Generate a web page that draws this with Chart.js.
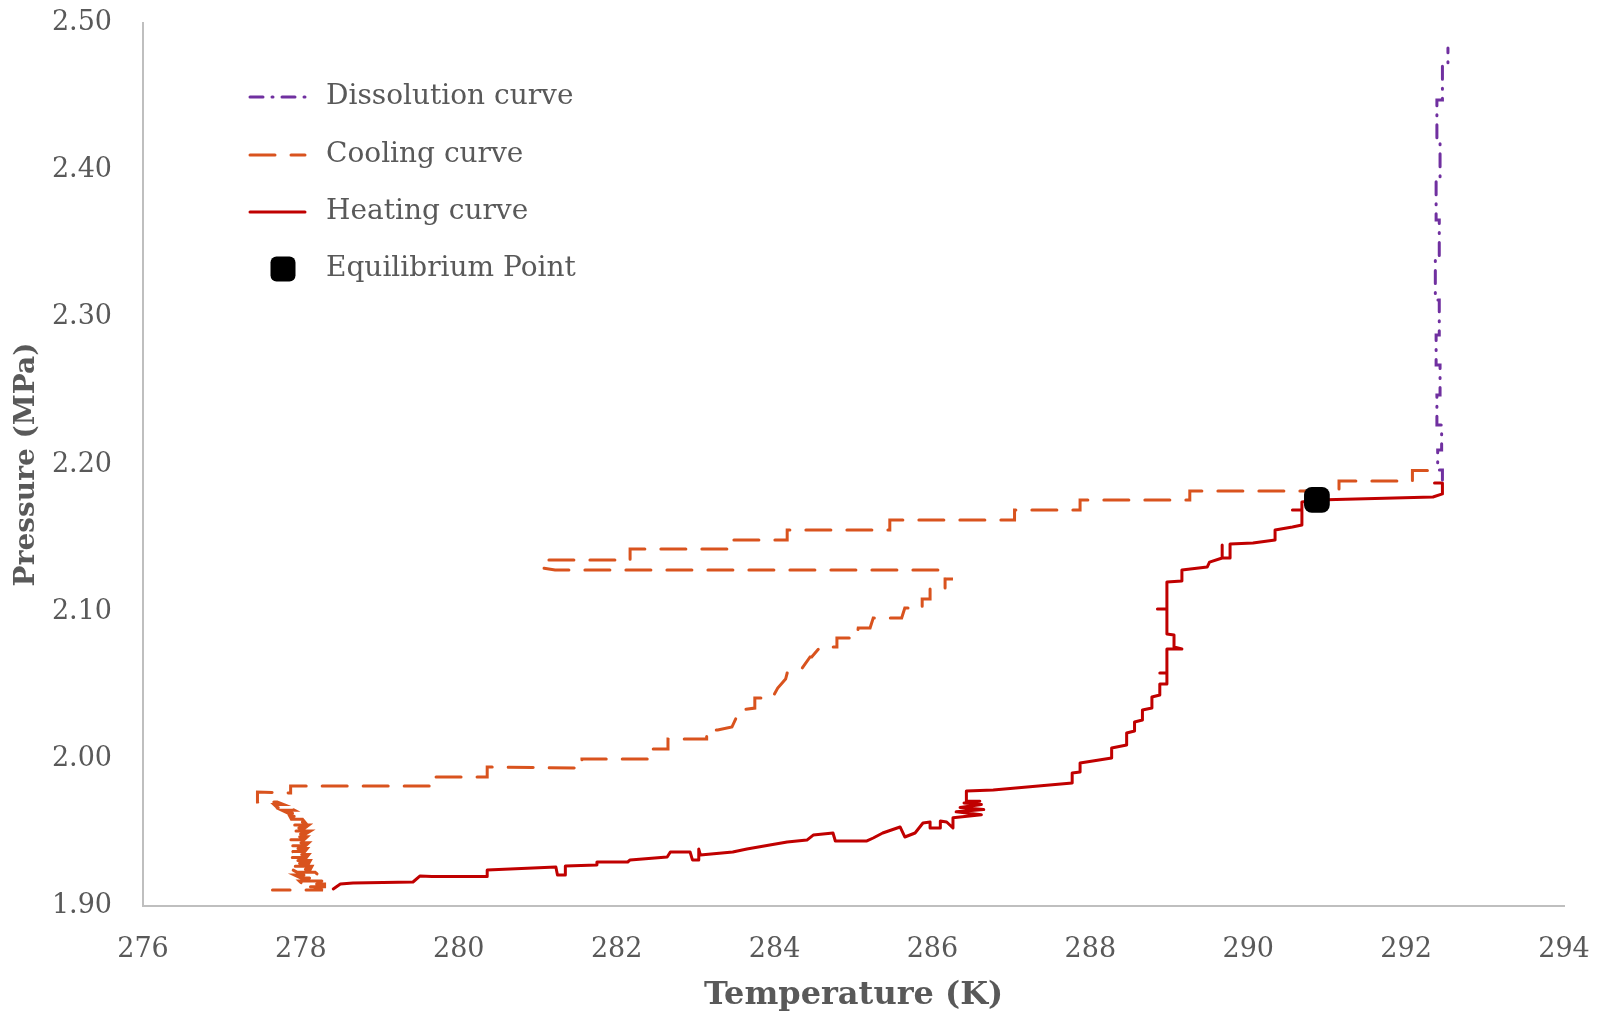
<!DOCTYPE html>
<html><head><meta charset="utf-8">
<script src="https://cdn.jsdelivr.net/npm/chart.js@4.4.1/dist/chart.umd.min.js"></script>
<style>html,body{margin:0;padding:0;background:#fff;overflow:hidden}#wrap{width:1598px;height:1017px;position:relative}</style>
</head><body><div id="wrap"><canvas id="c" width="1598" height="1017"></canvas></div>
<script>
// ---- data ----
const xAxisRange = [276, 294];
const xTickStep = 2;
const yAxisRange = [1.90, 2.50];
const yTickStep = 0.10;
const seriesNames = ["Dissolution curve", "Cooling curve", "Heating curve", "Equilibrium Point"];

const dissolutionT = [292.46,292.46,292.40,292.40,292.45,292.45,292.39,292.39,292.43,292.43,292.38,292.38,292.42,292.42,292.37,292.37,292.42,292.42,292.38,292.38,292.43,292.43,292.39,292.39,292.46,292.46,292.53,292.53];
const dissolutionP = [2.1895,2.1963,2.1963,2.2098,2.2098,2.2268,2.2268,2.2472,2.2472,2.2676,2.2676,2.2880,2.2880,2.3118,2.3118,2.3390,2.3390,2.3661,2.3661,2.3933,2.3933,2.4205,2.4205,2.4477,2.4477,2.4715,2.4715,2.4830];

const coolingT = [292.27,292.08,292.08,291.15,291.15,289.26,289.26,287.87,287.87,287.04,287.04,285.46,285.46,284.16,284.16,283.46,283.46,282.17,282.17,281.06,281.06,281.22,286.16,286.16,286.26,286.16,286.16,285.97,285.97,285.87,285.87,285.65,285.61,285.25,285.21,285.06,285.04,284.79,284.79,284.58,284.47,284.45,284.35,284.16,284.14,284.04,283.97,283.75,283.75,283.56,283.46,283.28,283.14,283.14,282.65,282.65,282.46,282.46,281.56,281.56,280.36,280.36,279.66,279.66,277.87,277.87,
  277.45,277.45, 277.59,277.70, 277.78,277.66, 277.70,277.85, 277.92,277.76, 277.84,277.95, 278.00,277.86, 277.88,278.02, 278.05,277.90, 277.88,278.10, 278.05,277.92, 277.86,278.12, 278.06,277.92, 277.90,278.08, 278.04,277.84, 277.92,278.10, 278.06,277.86, 277.84,278.08, 278.05,277.90, 277.86,278.10, 278.07,277.83, 277.90,278.12, 278.10,277.86, 277.92,278.14, 278.12,277.88, 277.95,278.18, 278.22,277.92, 278.00,278.25, 278.28,277.98, 278.02,278.30, 278.30,278.05, 278.28,277.64];
const coolingP = [2.1959,2.1959,2.1888,2.1888,2.1820,2.1820,2.1759,2.1759,2.1691,2.1691,2.1623,2.1623,2.1555,2.1555,2.1487,2.1487,2.1426,2.1426,2.1351,2.1351,2.1297,2.1283,2.1283,2.1222,2.1222,2.1222,2.1154,2.1154,2.1086,2.1086,2.1025,2.1025,2.0957,2.0957,2.0889,2.0889,2.0821,2.0821,2.0760,2.0760,2.0692,2.0692,2.0617,2.0583,2.0542,2.0481,2.0413,2.0413,2.0345,2.0332,2.0216,2.0196,2.0196,2.0135,2.0135,2.0067,2.0067,1.9999,1.9999,1.9938,1.9944,1.9877,1.9877,1.9815,1.9815,1.9768,
  1.9775,1.9707, 1.9707,1.9707, 1.9690,1.9690, 1.9670,1.9670, 1.9650,1.9650, 1.9630,1.9630, 1.9610,1.9610, 1.9590,1.9590, 1.9570,1.9570, 1.9550,1.9550, 1.9530,1.9530, 1.9510,1.9510, 1.9490,1.9490, 1.9470,1.9470, 1.9450,1.9450, 1.9430,1.9430, 1.9410,1.9410, 1.9390,1.9390, 1.9370,1.9370, 1.9350,1.9350, 1.9330,1.9330, 1.9310,1.9310, 1.9290,1.9290, 1.9270,1.9270, 1.9250,1.9250, 1.9230,1.9230, 1.9210,1.9210, 1.9190,1.9190, 1.9170,1.9170, 1.9150,1.9150, 1.9130,1.9130, 1.9109,1.9109];

const heatingT = [278.41,278.50,278.66,279.42,279.51,279.66,280.36,280.36,281.23,281.25,281.35,281.35,281.75,281.75,282.14,282.17,282.64,282.68,282.93,282.96,283.04,283.04,283.06,283.47,283.65,283.94,284.16,284.41,284.49,284.74,284.77,285.17,285.25,285.37,285.59,285.65,285.78,285.88,285.97,285.97,286.10,286.10,286.18,286.26,
  286.26,286.62,286.30,286.65,286.35,286.62,286.40,286.60,286.43,286.43,
  286.77,287.77,287.77,287.87,287.87,288.27,288.27,288.46,288.46,288.56,288.56,288.66,288.66,288.78,288.78,288.88,288.88,288.97,288.97,288.88,288.97,288.97,289.16,289.06,289.06,288.97,288.97,288.85,288.97,288.97,289.16,289.16,289.48,289.51,289.67,289.67,289.67,289.77,289.77,290.06,290.34,290.34,290.56,290.68,290.68,290.56,290.68,290.68,290.87,292.34,292.46,292.46,292.36];
const heatingP = [1.9116,1.9149,1.9156,1.9163,1.9204,1.9200,1.9200,1.9245,1.9265,1.9211,1.9211,1.9272,1.9279,1.9299,1.9299,1.9313,1.9333,1.9367,1.9367,1.9313,1.9313,1.9387,1.9347,1.9367,1.9387,1.9414,1.9435,1.9448,1.9482,1.9496,1.9442,1.9442,1.9462,1.9496,1.9537,1.9469,1.9496,1.9564,1.9571,1.9530,1.9530,1.9578,1.9571,1.9530,
  1.9600,1.9620,1.9640,1.9655,1.9670,1.9690,1.9700,1.9712,1.9712,1.9781,
  1.9788,1.9836,1.9904,1.9911,1.9972,2.0006,2.0074,2.0094,2.0176,2.0189,2.0250,2.0264,2.0332,2.0345,2.0420,2.0434,2.0508,2.0508,2.0583,2.0583,2.0583,2.0746,2.0746,2.0760,2.0841,2.0848,2.1018,2.1018,2.1018,2.1202,2.1208,2.1283,2.1303,2.1337,2.1365,2.1453,2.1365,2.1365,2.1460,2.1467,2.1487,2.1555,2.1575,2.1589,2.1691,2.1691,2.1691,2.1745,2.1759,2.1779,2.1800,2.1874,2.1874];

const equilibriumT = [290.87];
const equilibriumP = [2.176];

// ---- build ----
const toXY = (xs, ys) => xs.map((x, i) => ({x: x, y: ys[i]}));
const TXT = '#595959';
const FAMILY = "'DejaVu Serif', serif";

const datasets = [
  {label: seriesNames[3], data: toXY(equilibriumT, equilibriumP), showLine: false,
   pointStyle: 'rectRounded', pointRadius: 15, pointHoverRadius: 15,
   backgroundColor: '#000000', borderColor: '#000000', borderWidth: 0},
  {label: seriesNames[0], data: toXY(dissolutionT, dissolutionP), showLine: true, pointRadius: 0,
   borderColor: '#7030A0', borderWidth: 3, borderDash: [13, 9, 1, 9], borderCapStyle: 'round', tension: 0},
  {label: seriesNames[2], data: toXY(heatingT, heatingP), showLine: true, pointRadius: 0,
   borderColor: '#C00000', borderWidth: 3, borderCapStyle: 'round', borderJoinStyle: 'round', tension: 0},
  {label: seriesNames[1], data: toXY(coolingT, coolingP), showLine: true, pointRadius: 0,
   borderColor: '#D9531E', borderWidth: 3, borderDash: [25, 16], borderCapStyle: 'round', tension: 0}
];

const legendPlugin = {
  id: 'customLegend',
  afterDraw(chart) {
    const ctx = chart.ctx;
    const rows = [
      {name: seriesNames[0], ds: chart.data.datasets[1], y: 97},
      {name: seriesNames[1], ds: chart.data.datasets[3], y: 155},
      {name: seriesNames[2], ds: chart.data.datasets[2], y: 212},
      {name: seriesNames[3], ds: chart.data.datasets[0], y: 269}
    ];
    ctx.save();
    rows.forEach(r => {
      if (r.ds.showLine) {
        ctx.beginPath();
        ctx.strokeStyle = r.ds.borderColor;
        ctx.lineWidth = r.ds.borderWidth;
        ctx.lineCap = r.ds.borderCapStyle || 'butt';
        ctx.setLineDash(r.ds.borderDash || []);
        ctx.moveTo(250, r.y);
        ctx.lineTo(305, r.y);
        ctx.stroke();
      } else {
        ctx.setLineDash([]);
        ctx.fillStyle = r.ds.backgroundColor;
        const s = 25, rad = 6, x0 = 283 - s / 2, y0 = r.y - s / 2;
        ctx.beginPath();
        ctx.moveTo(x0 + rad, y0);
        ctx.arcTo(x0 + s, y0, x0 + s, y0 + s, rad);
        ctx.arcTo(x0 + s, y0 + s, x0, y0 + s, rad);
        ctx.arcTo(x0, y0 + s, x0, y0, rad);
        ctx.arcTo(x0, y0, x0 + s, y0, rad);
        ctx.closePath();
        ctx.fill();
      }
      ctx.setLineDash([]);
      ctx.fillStyle = TXT;
      ctx.font = "28px " + FAMILY;
      ctx.textBaseline = 'middle';
      ctx.textAlign = 'left';
      ctx.fillText(r.name, 326, r.y);
    });
    ctx.restore();
  }
};

new Chart(document.getElementById('c'), {
  type: 'scatter',
  data: {datasets: datasets},
  plugins: [legendPlugin],
  options: {
    responsive: false,
    animation: false,
    devicePixelRatio: 1,
    layout: {padding: {top: 23, right: 34, left: 0, bottom: 0}},
    plugins: {legend: {display: false}, tooltip: {enabled: false}},
    scales: {
      x: {
        type: 'linear', min: xAxisRange[0], max: xAxisRange[1],
        grid: {display: false, drawTicks: false},
        border: {display: true, color: '#BFBFBF', width: 2},
        ticks: {stepSize: xTickStep, color: TXT, padding: 28, font: {family: FAMILY, size: 27},
                callback: v => String(v)},
        title: {display: true, text: 'Temperature (K)', color: TXT,
                font: {family: FAMILY, size: 32, weight: 'bold'}, padding: {top: 0, bottom: 2}},
        afterFit: s => { s.height = 111; s.paddingLeft = 0; s.paddingRight = 0; }
      },
      y: {
        type: 'linear', min: yAxisRange[0], max: yAxisRange[1],
        grid: {display: false, drawTicks: false},
        border: {display: true, color: '#BFBFBF', width: 2},
        ticks: {stepSize: yTickStep, color: TXT, padding: 31, font: {family: FAMILY, size: 27},
                callback: v => Number(v).toFixed(2)},
        title: {display: true, text: 'Pressure (MPa)', color: TXT,
                font: {family: FAMILY, size: 28, weight: 'bold'}, padding: {top: 10, bottom: 0}},
        afterFit: s => { s.width = 143; s.paddingTop = 0; s.paddingBottom = 0; }
      }
    }
  }
});
</script></body></html>
